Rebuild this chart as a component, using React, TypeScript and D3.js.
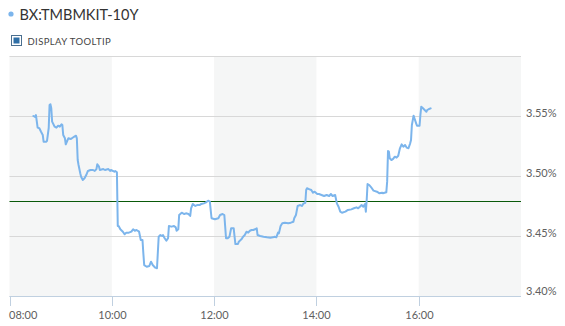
import React from "react";
import * as d3 from "d3";

const title = "BX:TMBMKIT-10Y";
const tooltipLabel = "DISPLAY TOOLTIP";

const times: string[] = [
  "08:28","08:30","08:31","08:33","08:35","08:37","08:39","08:40","08:43","08:44",
  "08:46","08:47","08:48","08:49","08:50","08:53","08:55","08:57","08:59","09:01",
  "09:02","09:03","09:05","09:06","09:08","09:09","09:12","09:14","09:16","09:18",
  "09:19","09:20","09:21","09:23","09:24","09:26","09:28","09:30","09:32","09:35",
  "09:38","09:40","09:42","09:43","09:45","09:46","09:50","09:52","09:56","09:58",
  "09:59","10:03","10:04","10:06","10:07","10:08","10:10","10:13","10:15","10:17",
  "10:20","10:23","10:25","10:27","10:29","10:32","10:34","10:36","10:37","10:38",
  "10:41","10:44","10:46","10:48","10:51","10:53","10:55","10:57","10:59","11:00",
  "11:02","11:04","11:06","11:07","11:10","11:13","11:15","11:16","11:18","11:19",
  "11:22","11:25","11:27","11:30","11:32","11:33","11:35","11:38","11:40","11:43",
  "11:45","11:48","11:50","11:53","11:55","11:57","12:01","12:05","12:07","12:10",
  "12:12","12:13","12:14","12:16","12:18","12:20","12:23","12:24","12:25","12:28",
  "12:29","12:32","12:34","12:36","12:38","12:40","12:42","12:44","12:46","12:48",
  "12:50","12:51","12:54","12:58","13:02","13:06","13:09","13:11","13:13","13:15",
  "13:16","13:18","13:20","13:23","13:27","13:30","13:33","13:34","13:36","13:38",
  "13:41","13:43","13:45","13:47","13:48","13:49","13:52","13:54","13:56","13:58",
  "14:01","14:03","14:06","14:09","14:12","14:15","14:17","14:19","14:22","14:24",
  "14:26","14:28","14:30","14:34","14:37","14:41","14:44","14:47","14:49","14:51",
  "14:53","14:55","14:57","14:58","14:59","15:00","15:02","15:05","15:07","15:11",
  "15:14","15:17","15:18","15:22","15:23","15:24","15:25","15:26","15:28","15:30",
  "15:32","15:34","15:36","15:38","15:40","15:42","15:44","15:46","15:48","15:50",
  "15:51","15:52","15:54","15:55","15:57","15:58","16:01","16:02","16:03","16:05",
  "16:07","16:09","16:10","16:12","16:14",
];

const yields: number[] = [
  3.5500,3.5492,3.5508,3.5403,3.5398,3.5369,3.5342,3.5286,3.5286,3.5292,
  3.5400,3.5592,3.5598,3.5564,3.5453,3.5411,3.5403,3.5419,3.5411,3.5431,
  3.5425,3.5342,3.5314,3.5264,3.5298,3.5314,3.5308,3.5319,3.5328,3.5336,
  3.5314,3.5133,3.5092,3.5023,3.4994,3.4967,3.4981,3.5008,3.5042,3.5050,
  3.5050,3.5042,3.5058,3.5098,3.5078,3.5050,3.5058,3.5050,3.5058,3.5042,
  3.5050,3.5036,3.5042,3.5031,3.4583,3.4583,3.4556,3.4536,3.4514,3.4528,
  3.4528,3.4536,3.4556,3.4544,3.4550,3.4536,3.4467,3.4467,3.4356,3.4258,
  3.4244,3.4250,3.4286,3.4258,3.4236,3.4231,3.4494,3.4508,3.4500,3.4508,
  3.4481,3.4461,3.4481,3.4583,3.4578,3.4583,3.4572,3.4544,3.4556,3.4675,
  3.4694,3.4683,3.4689,3.4683,3.4667,3.4731,3.4767,3.4750,3.4758,3.4758,
  3.4767,3.4772,3.4778,3.4794,3.4786,3.4648,3.4639,3.4648,3.4675,3.4683,
  3.4675,3.4578,3.4481,3.4481,3.4494,3.4564,3.4564,3.4494,3.4433,3.4433,
  3.4453,3.4472,3.4494,3.4508,3.4536,3.4528,3.4544,3.4550,3.4550,3.4556,
  3.4564,3.4508,3.4500,3.4494,3.4489,3.4486,3.4489,3.4494,3.4489,3.4528,
  3.4522,3.4583,3.4606,3.4611,3.4606,3.4611,3.4619,3.4648,3.4675,3.4750,
  3.4758,3.4750,3.4772,3.4775,3.4883,3.4898,3.4889,3.4883,3.4861,3.4869,
  3.4850,3.4850,3.4842,3.4833,3.4842,3.4833,3.4850,3.4833,3.4842,3.4772,
  3.4744,3.4703,3.4694,3.4703,3.4717,3.4722,3.4731,3.4739,3.4731,3.4744,
  3.4758,3.4744,3.4767,3.4703,3.4800,3.4933,3.4925,3.4898,3.4878,3.4869,
  3.4856,3.4861,3.4856,3.4864,3.4953,3.5208,3.5203,3.5148,3.5133,3.5142,
  3.5161,3.5153,3.5169,3.5231,3.5264,3.5244,3.5258,3.5236,3.5231,3.5272,
  3.5300,3.5425,3.5503,3.5481,3.5439,3.5419,3.5419,3.5508,3.5578,3.5564,
  3.5550,3.5536,3.5550,3.5558,3.5564,
];

const previousClose = 3.4789;
const xTickLabels = ["08:00", "10:00", "12:00", "14:00", "16:00"];
const yTickValues = [3.40, 3.45, 3.50, 3.55, 3.60];
const yLabelValues = [3.40, 3.45, 3.50, 3.55];
const bandStarts = ["08:00", "12:00", "16:00"];
const domainTimes = ["08:00", "18:00"];
const yDomain = [3.40, 3.60];

const W = 565;
const H = 326;
const plotLeft = 9.5;
const plotRight = 521;
const plotTop = 56;
const plotBottom = 296;
const FONT = "Lato, 'DejaVu Sans', sans-serif";

export default function App() {
  const parse = d3.timeParse("%H:%M");
  const x = d3
    .scaleTime()
    .domain(domainTimes.map((t) => parse(t) as Date))
    .range([plotLeft, plotRight]);
  const y = d3.scaleLinear().domain(yDomain).range([plotBottom, plotTop]);

  const data = times.map((t, i) => ({ t: parse(t) as Date, v: yields[i] }));
  const line = d3
    .line<{ t: Date; v: number }>()
    .x((d) => x(d.t))
    .y((d) => y(d.v));

  const twoHours = 2 * 3600 * 1000;

  return (
    <svg
      width={W}
      height={H}
      style={{ position: "absolute", left: 0, top: 0, background: "#fff" }}
    >
      {/* header */}
      <circle cx={11} cy={14} r={2.6} fill="#7cb5ec" />
      <text x={19.5} y={19.5} fontFamily={FONT} fontSize={14.5} fill="#333">
        {title}
      </text>
      <rect x={11.5} y={35.5} width={10} height={10} fill="#fff" stroke="#4a6f8f" strokeWidth={1} />
      <rect x={13.5} y={37.5} width={6} height={6} fill="#2f6fa6" />
      <text x={27.5} y={44.7} fontFamily={FONT} fontSize={9.5} fill="#444" letterSpacing={0.4}>
        {tooltipLabel}
      </text>

      {/* alternating bands */}
      {bandStarts.map((b) => {
        const s = parse(b) as Date;
        const e = new Date(Math.min(s.getTime() + twoHours, (parse(domainTimes[1]) as Date).getTime()));
        return (
          <rect
            key={b}
            x={x(s)}
            y={plotTop}
            width={x(e) - x(s)}
            height={plotBottom - plotTop}
            fill="#f5f6f6"
          />
        );
      })}

      {/* grid */}
      {yTickValues.map((v) => (
        <line
          key={v}
          x1={plotLeft}
          x2={plotRight}
          y1={Math.round(y(v)) + 0.5}
          y2={Math.round(y(v)) + 0.5}
          stroke="#d8d8d8"
          strokeWidth={1}
        />
      ))}

      {/* previous close line */}
      <line
        x1={plotLeft}
        x2={plotRight}
        y1={Math.round(y(previousClose)) + 0.5}
        y2={Math.round(y(previousClose)) + 0.5}
        stroke="#0a5a0a"
        strokeWidth={1}
      />

      {/* series */}
      <path
        d={line(data) || ""}
        fill="none"
        stroke="#7cb5ec"
        strokeWidth={2}
        strokeLinejoin="round"
        strokeLinecap="round"
      />

      {/* x axis */}
      <line
        x1={plotLeft}
        x2={plotRight}
        y1={plotBottom + 0.5}
        y2={plotBottom + 0.5}
        stroke="#c0d0e0"
        strokeWidth={1}
      />
      {xTickLabels.map((t, i) => {
        const px = Math.round(x(parse(t) as Date)) + 0.5;
        return (
          <g key={t}>
            <line x1={px} x2={px} y1={plotBottom} y2={plotBottom + 10} stroke="#c0d0e0" strokeWidth={1} />
            <text
              x={i === 0 ? plotLeft - 0.5 : px}
              y={318.5}
              textAnchor={i === 0 ? "start" : "middle"}
              fontFamily={FONT}
              fontSize={11}
              fill="#606060"
            >
              {t}
            </text>
          </g>
        );
      })}

      {/* y labels */}
      {yLabelValues.map((v) => (
        <text
          key={v}
          x={526}
          y={y(v) + (v === 3.40 ? -1.5 : 0.5)}
          fontFamily={FONT}
          fontSize={11}
          fill="#606060"
        >
          {d3.format(".2f")(v) + "%"}
        </text>
      ))}
    </svg>
  );
}
